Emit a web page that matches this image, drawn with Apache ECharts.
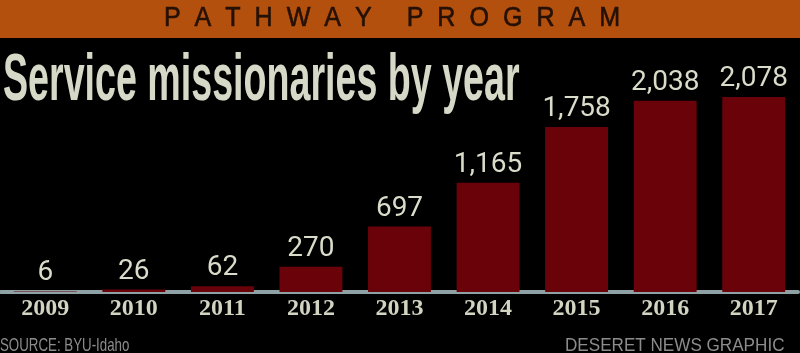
<!DOCTYPE html>
<html lang="en">
<head>
    <meta charset="UTF-8">
    <title>Service missionaries by year</title>
    <script src="https://cdn.jsdelivr.net/npm/echarts@6/dist/echarts.min.js"></script>
    <style>
        html, body {
            margin: 0;
            padding: 0;
            background: #000;
        }

        #main {
            width: 800px;
            height: 353px;
        }
    </style>
</head>
<body>
<div id="main"></div>
<script>
    // data
    var years = ['2009', '2010', '2011', '2012', '2013', '2014', '2015', '2016', '2017'];
    var missionaries = [6, 26, 62, 270, 697, 1165, 1758, 2038, 2078];

    var headText = 'P  A  T  H  W  A  Y     P  R  O  G  R  A  M';
    var titleText = 'Service missionaries by year';
    var sourceText = 'SOURCE: BYU-Idaho';
    var creditText = 'DESERET NEWS GRAPHIC';

    var myChart = echarts.init(document.getElementById('main'));
    var option = {
        backgroundColor: '#000',
        animation: false,
        grid: {
            left: 1,
            right: 2,
            top: 85.5,
            bottom: 61
        },
        xAxis: {
            type: 'category',
            data: years,
            axisLine: {
                lineStyle: {color: '#8ea2a6', width: 4}
            },
            axisTick: {show: false},
            axisLabel: {
                color: '#d2d4c2',
                fontFamily: 'Liberation Serif, serif',
                fontWeight: 'bold',
                fontSize: 24,
                margin: 5
            }
        },
        yAxis: {
            type: 'value',
            min: 0,
            max: 2200,
            show: false,
            splitLine: {show: false}
        },
        series: [
            {
                type: 'bar',
                data: missionaries,
                barWidth: '71%',
                itemStyle: {color: '#6a0309'},
                label: {
                    show: true,
                    position: 'top',
                    distance: 4,
                    color: '#d8dcc9',
                    fontFamily: 'Roboto, Liberation Sans, sans-serif',
                    fontSize: 28,
                    formatter: function (p) {
                        return p.value.toLocaleString('en-US');
                    }
                }
            }
        ],
        graphic: [
            {
                type: 'rect',
                shape: {x: 0, y: 0, width: 800, height: 38},
                style: {fill: '#b4500e'},
                z: -1
            },
            {
                type: 'text',
                x: 392,
                y: 19,
                scaleX: 0.93,
                style: {
                    text: headText,
                    fill: '#241004',
                    font: '27px "Liberation Sans", sans-serif',
                    align: 'center',
                    verticalAlign: 'middle',
                    stroke: '#241004',
                    lineWidth: 0.6
                }
            },
            {
                type: 'text',
                x: 3,
                y: 82,
                scaleX: 0.57,
                style: {
                    text: titleText,
                    fill: '#d6d9c8',
                    font: 'bold 66px "Liberation Sans", sans-serif',
                    verticalAlign: 'middle'
                }
            },
            {
                type: 'text',
                x: 0,
                y: 346,
                scaleX: 0.7,
                style: {
                    text: sourceText,
                    fill: '#8c8c8c',
                    font: '19px "Liberation Sans", sans-serif',
                    verticalAlign: 'middle'
                }
            },
            {
                type: 'text',
                x: 565,
                y: 346,
                scaleX: 0.9,
                style: {
                    text: creditText,
                    fill: '#8c8c8c',
                    font: '19px "Liberation Sans", sans-serif',
                    verticalAlign: 'middle'
                }
            }
        ]
    };
    myChart.setOption(option);
</script>
</body>
</html>
